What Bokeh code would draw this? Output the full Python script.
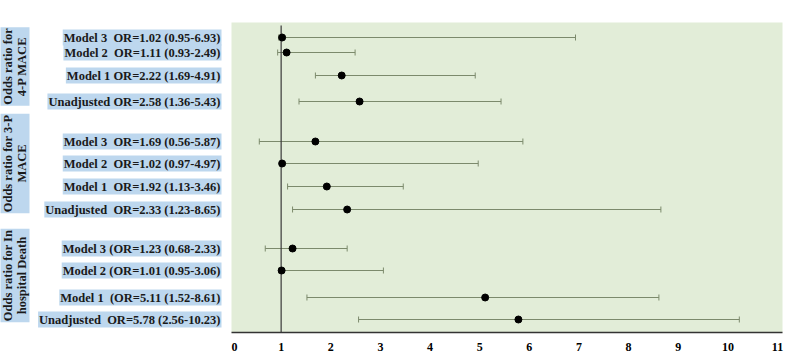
import math
from bokeh.plotting import figure
from bokeh.layouts import row
from bokeh.models import Range1d, Label, ColumnDataSource, Whisker, TeeHead, FixedTicker
from bokeh.embed import file_html
from bokeh.resources import INLINE

NB = "\u00a0"
labels = [
    "Model 3  OR=1.02 (0.95-6.93)",
    "Model 2  OR=1.11 (0.93-2.49)",
    "Model 1 OR=2.22 (1.69-4.91)",
    "Unadjusted OR=2.58 (1.36-5.43)",
    "Model 3  OR=1.69 (0.56-5.87)",
    "Model 2  OR=1.02 (0.97-4.97)",
    "Model 1  OR=1.92 (1.13-3.46)",
    "Unadjusted  OR=2.33 (1.23-8.65)",
    "Model 3 (OR=1.23 (0.68-2.33)",
    "Model 2 (OR=1.01 (0.95-3.06)",
    "Model 1  (OR=5.11 (1.52-8.61)",
    "Unadjusted  OR=5.78 (2.56-10.23)",
]
odds = [1.02, 1.11, 2.22, 2.58, 1.69, 1.02, 1.92, 2.33, 1.23, 1.01, 5.11, 5.78]
lower = [0.95, 0.93, 1.69, 1.36, 0.56, 0.97, 1.13, 1.23, 0.68, 0.95, 1.52, 2.56]
upper = [6.93, 2.49, 4.91, 5.43, 5.87, 4.97, 3.46, 8.65, 2.33, 3.06, 8.61, 10.23]
# vertical row positions (top = small)
row_pos = [37, 52, 75, 101, 141, 163, 186, 209, 248, 270, 297, 319]
group_titles = ["Odds ratio for\n4-P MACE", "Odds ratio for 3-P\nMACE", "Odds ratio for In\nhospital Death"]
group_centers = [66, 163, 275]
x_ticks = list(range(0, 12))

LW = 231
left = figure(width=LW, height=357, output_backend="svg", toolbar_location=None,
              x_range=Range1d(0, LW), y_range=Range1d(332, 22),
              min_border_left=0, min_border_right=0, min_border_top=22, min_border_bottom=25)
left.axis.visible = False
left.grid.visible = False
left.outline_line_color = None
left.background_fill_color = "white"
left.border_fill_color = "white"

p = figure(width=790 - LW, height=357, output_backend="svg", toolbar_location=None,
           x_range=Range1d(0, 11.1), y_range=left.y_range,
           min_border_left=0, min_border_right=8, min_border_top=22, min_border_bottom=25)
p.background_fill_color = "#E2EDD8"
p.border_fill_color = "white"
p.outline_line_color = None
p.grid.visible = False
p.yaxis.visible = False

ax = p.xaxis[0]
ax.ticker = FixedTicker(ticks=x_ticks)
ax.major_tick_line_color = None
ax.minor_tick_line_color = None
ax.axis_line_color = "#333333"
ax.axis_line_width = 1.5
ax.major_label_text_font = "Liberation Serif"
ax.major_label_text_font_style = "bold"
ax.major_label_text_font_size = "12px"
ax.major_label_text_color = "black"
ax.major_label_standoff = 4

src = ColumnDataSource(dict(y=row_pos, odds=odds, lower=lower, upper=upper))

# reference line at OR = 1
p.segment(x0=[1], y0=[25], x1=[1], y1=[332], line_color="#3a3a3a", line_width=1.2)

w = Whisker(source=src, base="y", lower="lower", upper="upper", dimension="width",
            line_color="#7C8A6C", line_width=1.2,
            lower_head=TeeHead(size=6, line_color="#7C8A6C", line_width=1),
            upper_head=TeeHead(size=6, line_color="#7C8A6C", line_width=1))
p.add_layout(w)

p.scatter(x="odds", y="y", source=src, size=7, color="black")

for txt, y in zip(labels, row_pos):
    left.add_layout(Label(x=221, y=y, text=txt.replace(" ", NB), text_align="right",
                          text_baseline="middle",
                          text_font="Liberation Serif", text_font_style="bold",
                          text_font_size="12.5px", text_color="#1a1a1a",
                          padding=1,
                          background_fill_color="#BDD7EE", background_fill_alpha=1.0))

for txt, y in zip(group_titles, group_centers):
    left.add_layout(Label(x=14, y=y, text=txt, angle=math.pi / 2, text_align="center",
                          text_baseline="middle", text_font="Liberation Serif",
                          text_font_style="bold", text_font_size="12.5px", text_color="#1a1a1a",
                          text_line_height=1.0, padding=1,
                          background_fill_color="#BDD7EE", background_fill_alpha=1.0))

layout = row(left, p)
open("out.html", "w").write(file_html(layout, INLINE))
